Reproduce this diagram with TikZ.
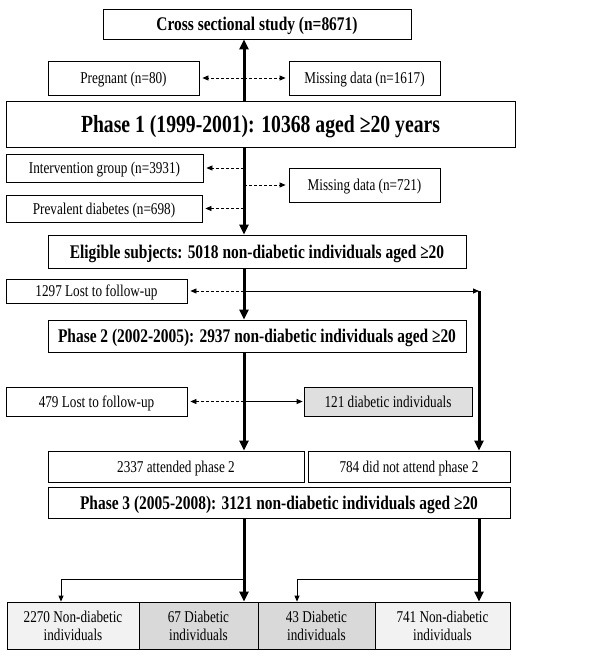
\documentclass[tikz,border=0pt]{standalone}
\usepackage{fontspec}
\setmainfont{Liberation Serif}[FakeStretch=0.8]
\usetikzlibrary{arrows.meta}
\tikzstyle{box} = [rectangle, draw=black, line width=0.8pt, inner sep=0pt, text centered, text depth=0pt, font=\fontsize{16.5}{18}\selectfont]
\tikzstyle{headbox} = [box, font=\fontsize{19.3}{21}\selectfont\bfseries]
\tikzstyle{thickarrow} = [line width=3pt, -{Triangle[width=9pt,length=10pt]}]
\tikzstyle{thinarrow} = [line width=0.8pt, -{Triangle[width=5pt,length=6pt]}]
\tikzstyle{dasharrow} = [thinarrow, dash pattern=on 3pt off 2pt, shorten >=3pt]

\begin{document}
\begin{tikzpicture}[x=1pt, y=-1pt]
    \useasboundingbox (0,0) rectangle (600,658);
    \coordinate (spine) at (244,0);
    \coordinate (rspine) at (479,0);
    \coordinate (split) at (0,579);

    \node (cross) [headbox, minimum width=308pt, minimum height=30pt] at (257,24) {Cross sectional study (n=8671)};
    \node (preg) [box, minimum width=151pt, minimum height=34pt] at (123.5,78) {Pregnant (n=80)};
    \node (miss1) [box, minimum width=151pt, minimum height=34pt] at (364.5,78) {Missing data (n=1617)};
    \node (phase1) [headbox, minimum width=509pt, minimum height=46pt, font=\fontsize{24.6}{27}\selectfont\bfseries] at (260.5,124) {Phase 1 (1999-2001): 10368 aged ≥20 years};
    \node (interv) [box, minimum width=197pt, minimum height=28pt] at (104.5,168) {Intervention group (n=3931)};
    \node (miss2) [box, minimum width=151pt, minimum height=34pt] at (364.5,185) {Missing data (n=721)};
    \node (preval) [box, minimum width=196pt, minimum height=27pt] at (104,208.5) {Prevalent diabetes (n=698)};
    \node (elig) [headbox, minimum width=418pt, minimum height=33pt] at (257,251.5) {Eligible subjects: 5018 non-diabetic individuals aged ≥20};
    \node (lost1) [box, minimum width=181pt, minimum height=24pt] at (96.5,291) {1297 Lost to follow-up};
    \node (phase2) [headbox, minimum width=418pt, minimum height=32pt] at (257,336) {Phase 2 (2002-2005): 2937 non-diabetic individuals aged ≥20};
    \node (lost2) [box, minimum width=181pt, minimum height=29pt] at (96.5,401.5) {479 Lost to follow-up};
    \node (diab) [box, minimum width=168pt, minimum height=29pt, fill=gray!25] at (388,401.5) {121 diabetic individuals};
    \node (att) [box, minimum width=256pt, minimum height=31pt] at (176,466.5) {2337 attended phase 2};
    \node (notatt) [box, minimum width=202pt, minimum height=31pt] at (409,466.5) {784 did not attend phase 2};
    \node (phase3) [headbox, minimum width=462pt, minimum height=31pt] at (279,502.5) {Phase 3 (2005-2008): 3121 non-diabetic individuals aged ≥20};

    \node (res1) [box, minimum width=132pt, minimum height=47pt, fill=gray!10, align=center] at (73,625.5) {2270 Non-diabetic\\individuals};
    \node (res2) [box, minimum width=119pt, minimum height=47pt, fill=gray!30, align=center] at (198.5,625.5) {67 Diabetic\\individuals};
    \node (res3) [box, minimum width=117pt, minimum height=47pt, fill=gray!30, align=center] at (316.5,625.5) {43 Diabetic\\individuals};
    \node (res4) [box, minimum width=135pt, minimum height=47pt, fill=gray!10, align=center] at (442.5,625.5) {741 Non-diabetic\\individuals};

    \draw [thickarrow] (phase1.north -| spine) -- (cross.south -| spine);
    \draw [dasharrow] (preg.east -| spine) -- (preg.east);
    \draw [dasharrow] (miss1.west -| spine) -- (miss1.west);

    \draw [thickarrow] (phase1.south -| spine) -- (elig.north -| spine);
    \draw [dasharrow] (interv.east -| spine) -- (interv.east);
    \draw [dasharrow] (miss2.west -| spine) -- (miss2.west);
    \draw [dasharrow] (preval.east -| spine) -- (preval.east);

    \draw [thickarrow] (elig.south -| spine) -- (phase2.north -| spine);
    \draw [dasharrow] (lost1.east -| spine) -- (lost1.east);
    \draw [thinarrow] (lost1.east -| spine) -- (lost1.east -| rspine);
    \draw [thickarrow] (lost1.east -| rspine) -- (notatt.north -| rspine);

    \draw [thickarrow] (phase2.south -| spine) -- (att.north -| spine);
    \draw [dasharrow] (lost2.east -| spine) -- (lost2.east);
    \draw [thinarrow, shorten >=1pt] (diab.west -| spine) -- (diab.west);

    \draw [thickarrow] (phase3.south -| spine) -- (res2.north -| spine);
    \draw [thickarrow] (phase3.south -| rspine) -- (res4.north -| rspine);
    \draw [thinarrow] (split -| spine) -| ([xshift=-12pt]res1.north);
    \draw [thinarrow] (split -| rspine) -| ([xshift=-19.5pt]res3.north);

\end{tikzpicture}
\end{document}
